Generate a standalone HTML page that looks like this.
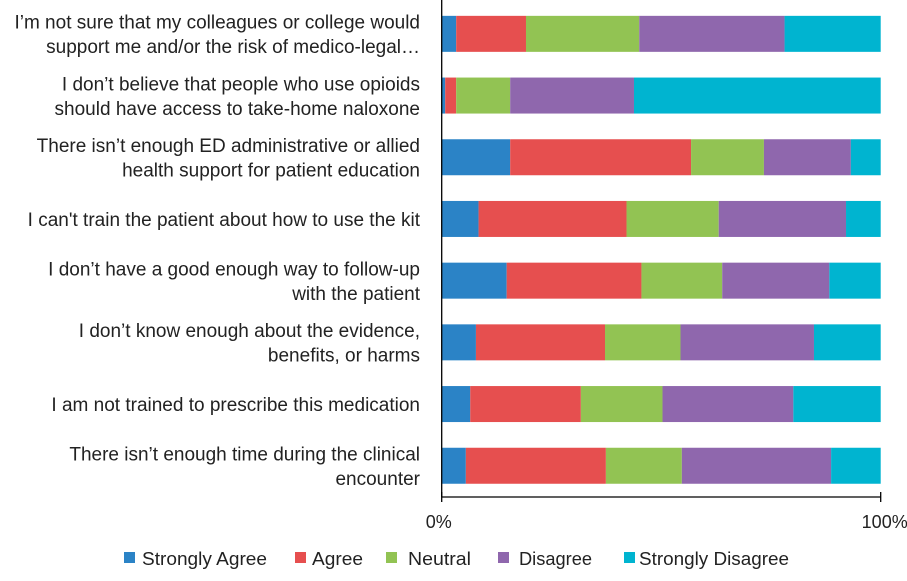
<!DOCTYPE html>
<html><head><meta charset="utf-8"><style>
body{margin:0;background:#fff;width:907px;height:576px;overflow:hidden;font-family:"Liberation Sans",sans-serif}
svg text{font-family:"Liberation Sans",sans-serif;fill:#222}
</style></head><body>
<svg id="chart" width="907" height="576"></svg>
<script>
const categories=[
 ["I’m not sure that my colleagues or college would","support me and/or the risk of medico-legal…"],
 ["I don’t believe that people who use opioids","should have access to take-home naloxone"],
 ["There isn’t enough ED administrative or allied","health support for patient education"],
 ["I can't train the patient about how to use the kit"],
 ["I don’t have a good enough way to follow-up","with the patient"],
 ["I don’t know enough about the evidence,","benefits, or harms"],
 ["I am not trained to prescribe this medication"],
 ["There isn’t enough time during the clinical","encounter"]
];
const seriesNames=["Strongly Agree","Agree","Neutral","Disagree","Strongly Disagree"];
const stronglyAgree=[3.3,0.8,15.6,8.4,14.8,7.8,6.5,5.5];
const agree=[15.9,2.5,41.2,33.7,30.7,29.4,25.2,31.9];
const neutral=[25.8,12.3,16.6,21.0,18.4,17.2,18.6,17.3];
const disagree=[33.1,28.2,19.8,29.0,24.4,30.4,29.8,34.0];
const stronglyDisagree=[21.9,56.2,6.8,7.9,11.7,15.2,19.9,11.3];
const tickLabels=["0%","100%"];
const tickValues=[0,100];
</script>
<script>
const NS="http://www.w3.org/2000/svg";
const svg=document.getElementById('chart');
const colors=["#2b83c6","#e64f4f","#92c353","#8f67ad","#00b4d0"];
const series=[stronglyAgree,agree,neutral,disagree,stronglyDisagree];
const x0=441.7,x1=880.7,yTop=3,band=61.7,barH=36;
const xs=v=>x0+(v/100)*(x1-x0);
const yc=i=>yTop+band*i+band/2;
function mk(t,a){const e=document.createElementNS(NS,t);for(const k in a)e.setAttribute(k,a[k]);svg.appendChild(e);return e;}
categories.forEach((c,i)=>{
 let cum=0;
 series.forEach((s,j)=>{
  const r=mk('rect',{x:xs(cum),y:yc(i)-barH/2,width:xs(cum+s[i])-xs(cum),height:barH,fill:colors[j]});
  
  
  cum+=s[i];
 });
 const t=mk('text',{x:420,'text-anchor':'end','font-size':'19'});
 
 
 const n=c.length;
 c.forEach((ln,k)=>{const ts=document.createElementNS(NS,'tspan');ts.setAttribute('x',420);ts.setAttribute('y',yc(i)+7+(k-(n-1)/2)*24.5);ts.textContent=ln;t.appendChild(ts);});
});
const ax=mk('line',{x1:x0,y1:0,x2:x0,y2:497,stroke:'#000','stroke-width':1.3});

const bx=mk('line',{x1:x0,y1:497,x2:x1,y2:497,stroke:'#000','stroke-width':1.3});

tickValues.forEach((v,i)=>{
 const tk=mk('line',{x1:xs(v),y1:492,x2:xs(v),y2:502,stroke:'#000','stroke-width':1.3});
 
 const tl=mk('text',{x:xs(v)+(i?4:-3),y:528,'text-anchor':'middle','font-size':'18'});
 tl.textContent=tickLabels[i];
 
});
const legX=[124,295,386,498,624];
const legTextX=[142,312,408,519,639];
const legTextW=[125,51,63,73,150];
seriesNames.forEach((n,j)=>{
 const g=mk('g',{});
 
 
 const r=document.createElementNS(NS,'rect');
 r.setAttribute('x',legX[j]);r.setAttribute('y',552);r.setAttribute('width',11);r.setAttribute('height',11);r.setAttribute('fill',colors[j]);
 g.appendChild(r);
 const t=document.createElementNS(NS,'text');
 t.setAttribute('x',legTextX[j]);t.setAttribute('y',565);t.setAttribute('font-size','18');
 t.setAttribute('textLength',legTextW[j]);t.setAttribute('lengthAdjust','spacingAndGlyphs');
 t.textContent=n;g.appendChild(t);
});
</script>
</body></html>
